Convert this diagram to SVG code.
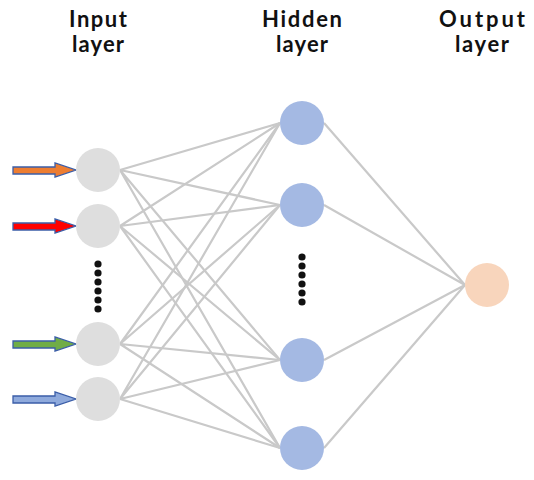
<svg xmlns="http://www.w3.org/2000/svg" width="534" height="480" viewBox="0 0 534 480">
<style>
.t{font-family:Lato,"Liberation Sans",sans-serif;font-weight:bold;font-size:22px;fill:#111;text-anchor:middle}
.in{fill:#dedede}
.hid{fill:#a4b9e3}
.out{fill:#f8d5bc}
.e{stroke:#c9c9c9;stroke-width:2.2;fill:none}
.dot{fill:#111}
.arr{stroke:#3b5ea8;stroke-width:1.3}
</style>
<rect width="534" height="480" fill="#fff"/>
<g id="labels">
<text class="t" x="98" y="27" textLength="58" lengthAdjust="spacing">Input</text>
<text class="t" x="98" y="52" textLength="52" lengthAdjust="spacing">layer</text>
<text class="t" x="302" y="27" textLength="80" lengthAdjust="spacing">Hidden</text>
<text class="t" x="302" y="52" textLength="52" lengthAdjust="spacing">layer</text>
<text class="t" x="482" y="27" textLength="86" lengthAdjust="spacing">Output</text>
<text class="t" x="482" y="52" textLength="54" lengthAdjust="spacing">layer</text>
</g>
<g id="connectors">
<path class="e" d="M120 170L280 123M120 170L280 205M120 170L280 360M120 170L280 448"/>
<path class="e" d="M120 226L280 123M120 226L280 205M120 226L280 360M120 226L280 448"/>
<path class="e" d="M120 344L280 123M120 344L280 205M120 344L280 360M120 344L280 448"/>
<path class="e" d="M120 399L280 123M120 399L280 205M120 399L280 360M120 399L280 448"/>
<path class="e" d="M324 123L465 285M324 205L465 285M324 360L465 285M324 448L465 285"/>
</g>
<g id="arrow1"><polygon class="arr" fill="#ed7d31" points="13,167 55,167 55,163 76,170 55,177 55,174 13,174"/></g>
<g id="arrow2"><polygon class="arr" fill="#ff0000" points="13,223 55,223 55,219 76,226 55,233 55,230 13,230"/></g>
<g id="arrow3"><polygon class="arr" fill="#70ad47" points="13,341 55,341 55,337 76,344 55,351 55,348 13,348"/></g>
<g id="arrow4"><polygon class="arr" fill="#8faadc" points="13,396 55,396 55,392 76,399 55,406 55,403 13,403"/></g>
<g id="input1"><circle class="in" cx="98" cy="170" r="22"/></g>
<g id="input2"><circle class="in" cx="98" cy="226" r="22"/></g>
<g id="input3"><circle class="in" cx="98" cy="344" r="22"/></g>
<g id="input4"><circle class="in" cx="98" cy="399" r="22"/></g>
<g id="input-dots">
<circle class="dot" cx="98" cy="264" r="3.6"/><circle class="dot" cx="98" cy="273" r="3.6"/><circle class="dot" cx="98" cy="282" r="3.6"/><circle class="dot" cx="98" cy="291" r="3.6"/><circle class="dot" cx="98" cy="300" r="3.6"/><circle class="dot" cx="98" cy="309" r="3.6"/>
</g>
<g id="hidden1"><circle class="hid" cx="302" cy="123" r="22"/></g>
<g id="hidden2"><circle class="hid" cx="302" cy="205" r="22"/></g>
<g id="hidden3"><circle class="hid" cx="302" cy="360" r="22"/></g>
<g id="hidden4"><circle class="hid" cx="302" cy="448" r="22"/></g>
<g id="hidden-dots">
<circle class="dot" cx="302" cy="257" r="3.6"/><circle class="dot" cx="302" cy="266" r="3.6"/><circle class="dot" cx="302" cy="275" r="3.6"/><circle class="dot" cx="302" cy="284" r="3.6"/><circle class="dot" cx="302" cy="293" r="3.6"/><circle class="dot" cx="302" cy="302" r="3.6"/>
</g>
<g id="output1"><circle class="out" cx="487" cy="285" r="22"/></g>
</svg>
